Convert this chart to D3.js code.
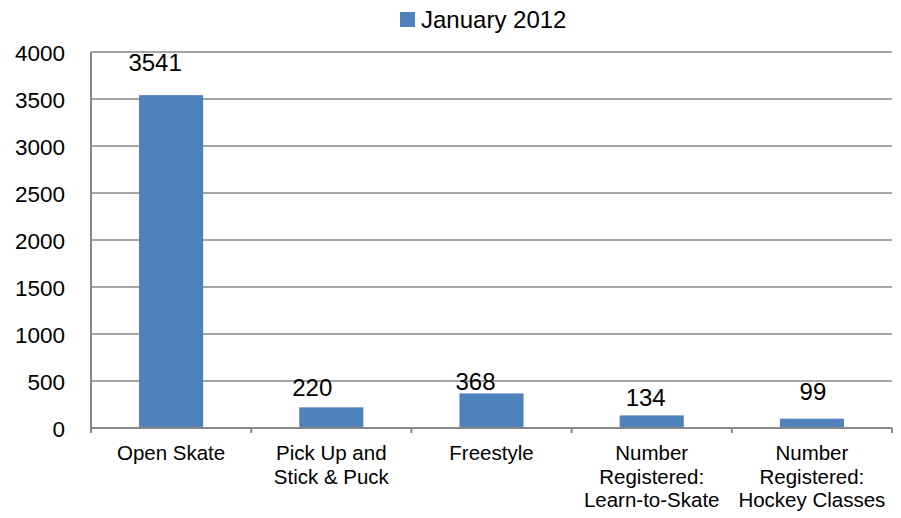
<!DOCTYPE html>
<html>
<head>
<meta charset="utf-8">
<script src="https://cdn.jsdelivr.net/npm/d3@7"></script>
<style>
	body { margin: 0; background: white; }
	text { font-family: "Liberation Sans", Arial, sans-serif; fill: #000; }
</style>
</head>
<body>
<div id="chart"></div>
<script>
// chart data
var categories = [
	['Open Skate'],
	['Pick Up and', 'Stick & Puck'],
	['Freestyle'],
	['Number', 'Registered:', 'Learn-to-Skate'],
	['Number', 'Registered:', 'Hockey Classes']
]
var values = [3541, 220, 368, 134, 99]
var seriesName = 'January 2012'
var yTicks = [0, 500, 1000, 1500, 2000, 2500, 3000, 3500, 4000]

// hand-placed data labels in the original (offset from bar centre / top)
var labelNudge = [[-16, -24], [-19, -11], [-16, -3], [-6, -9], [1, -19]]

var width = 901, height = 518
var margin = {top: 52, right: 9, bottom: 90, left: 91}
var barColor = '#4f81bd'
var gridColor = '#878787'

var svg = d3.select('#chart').append('svg')
	.attr('width', width)
	.attr('height', height)

var x = d3.scaleBand()
	.domain(d3.range(categories.length))
	.range([margin.left, width - margin.right])
	.paddingInner(0.6)
	.paddingOuter(0.3)

var y = d3.scaleLinear()
	.domain([0, 4000])
	.range([height - margin.bottom, margin.top])

// gridlines
svg.append('g')
	.selectAll('line')
	.data(yTicks)
	.enter()
	.append('line')
	.attr('x1', margin.left)
	.attr('x2', width - margin.right)
	.attr('y1', function(d){ return y(d) })
	.attr('y2', function(d){ return y(d) })
	.attr('stroke', gridColor)
	.attr('stroke-width', 1.5)

// y labels
svg.append('g')
	.selectAll('text')
	.data(yTicks)
	.enter()
	.append('text')
	.attr('x', 65)
	.attr('y', function(d){ return y(d) + 1 })
	.attr('dy', '0.36em')
	.attr('text-anchor', 'end')
	.style('font-size', '22.5px')
	.text(function(d){ return d })

// bars
svg.append('g')
	.selectAll('rect')
	.data(values)
	.enter()
	.append('rect')
	.attr('x', function(d, i){ return x(i) })
	.attr('y', function(d){ return y(d) })
	.attr('width', x.bandwidth())
	.attr('height', function(d){ return y(0) - y(d) })
	.attr('fill', barColor)

// axes lines + category ticks
var step = x.step()
var edges = d3.range(categories.length + 1).map(function(i){
	return margin.left + i * (width - margin.right - margin.left) / categories.length
})
svg.append('line')
	.attr('x1', margin.left).attr('x2', margin.left)
	.attr('y1', y(4000)).attr('y2', y(0) + 5)
	.attr('stroke', gridColor)
	.attr('stroke-width', 2)
svg.append('line')
	.attr('x1', margin.left).attr('x2', width - margin.right)
	.attr('y1', y(0)).attr('y2', y(0))
	.attr('stroke', gridColor)
	.attr('stroke-width', 2)
svg.append('g')
	.selectAll('line')
	.data(edges)
	.enter()
	.append('line')
	.attr('x1', function(d){ return d })
	.attr('x2', function(d){ return d })
	.attr('y1', y(0))
	.attr('y2', y(0) + 5)
	.attr('stroke', gridColor)
	.attr('stroke-width', 2)

// category labels
svg.append('g')
	.selectAll('text')
	.data(categories)
	.enter()
	.append('text')
	.attr('text-anchor', 'middle')
	.attr('x', function(d, i){ return x(i) + x.bandwidth() / 2 })
	.attr('y', 460)
	.style('font-size', '20.5px')
	.each(function(d, i){
		var t = d3.select(this)
		var cx = x(i) + x.bandwidth() / 2
		d.forEach(function(line, j){
			t.append('tspan')
				.attr('x', cx)
				.attr('y', 460 + j * 23.5)
				.text(line)
		})
	})

// value labels
svg.append('g')
	.selectAll('text')
	.data(values)
	.enter()
	.append('text')
	.attr('text-anchor', 'middle')
	.attr('x', function(d, i){ return x(i) + x.bandwidth() / 2 + labelNudge[i][0] })
	.attr('y', function(d, i){ return y(d) + labelNudge[i][1] })
	.style('font-size', '24px')
	.text(function(d){ return d })

// legend
var legend = svg.append('g')
legend.append('rect')
	.attr('x', 400)
	.attr('y', 12)
	.attr('width', 15)
	.attr('height', 15)
	.attr('fill', barColor)
legend.append('text')
	.attr('x', 421)
	.attr('y', 28)
	.style('font-size', '24px')
	.text(seriesName)
</script>
</body>
</html>
